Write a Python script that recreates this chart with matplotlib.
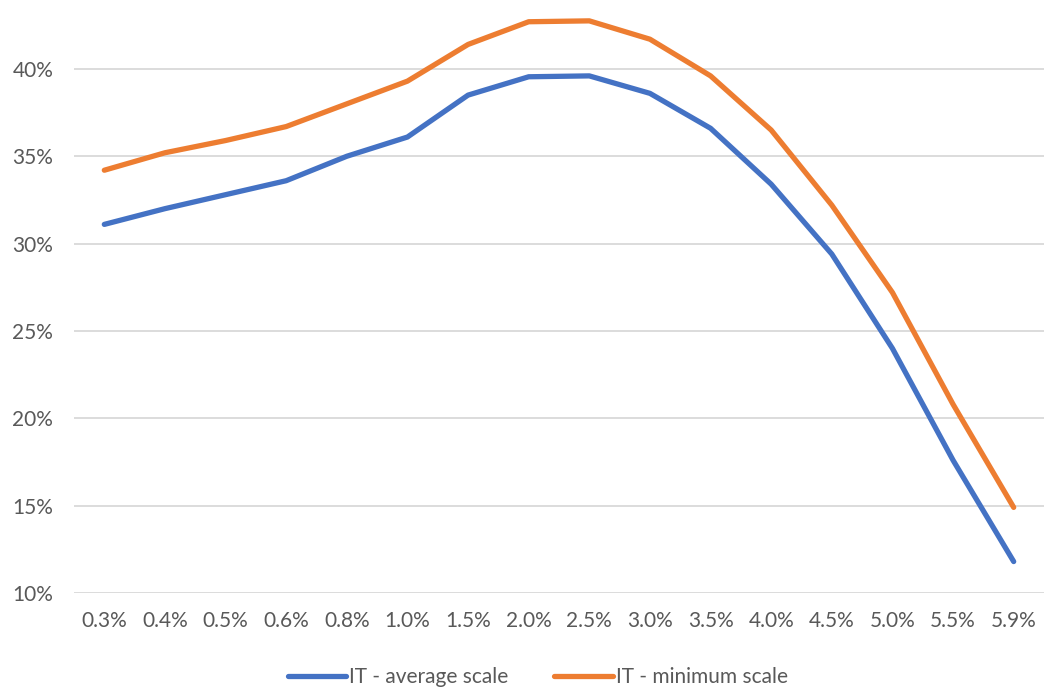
import numpy as np
import matplotlib.pyplot as plt
from matplotlib.ticker import PercentFormatter

plt.rcParams['font.family'] = ['Lato', 'DejaVu Sans']

# x categories (rate) and the two IT series
rates = ['0.3%', '0.4%', '0.5%', '0.6%', '0.8%', '1.0%', '1.5%', '2.0%',
         '2.5%', '3.0%', '3.5%', '4.0%', '4.5%', '5.0%', '5.5%', '5.9%']
it_avg = [31.1, 32.0, 32.8, 33.6, 35.0, 36.1, 38.5, 39.55,
          39.6, 38.6, 36.6, 33.4, 29.4, 24.0, 17.6, 11.8]
it_min = [34.2, 35.2, 35.9, 36.7, 38.0, 39.3, 41.4, 42.7,
          42.75, 41.7, 39.6, 36.5, 32.2, 27.2, 20.8, 14.9]

grey = '#595959'

fig = plt.figure(figsize=(10.44, 6.91), dpi=100)
ax = fig.add_axes([74/1044, 1 - 593/691, 1 - 74/1044, (593 - 13)/691])

x = np.arange(len(rates))
ax.plot(x, np.array(it_avg) / 100, color='#4472C4', lw=3.8,
        solid_capstyle='round', solid_joinstyle='round', label='IT - average scale')
ax.plot(x, np.array(it_min) / 100, color='#ED7D31', lw=3.8,
        solid_capstyle='round', solid_joinstyle='round', label='IT - minimum scale')

ax.set_xlim(-0.5, len(rates) - 0.5)
ax.set_ylim(0.10, 0.432)
ax.set_yticks([0.10, 0.15, 0.20, 0.25, 0.30, 0.35, 0.40])
ax.yaxis.set_major_formatter(PercentFormatter(1.0, decimals=0))
ax.set_xticks(x)
ax.set_xticklabels(rates)

ax.grid(axis='y', color='#D9D9D9', lw=1.3)
ax.set_axisbelow(True)
for s in ax.spines.values():
    s.set_visible(False)
ax.tick_params(axis='both', length=0, labelsize=15, labelcolor=grey)
ax.tick_params(axis='y', pad=15)
ax.tick_params(axis='x', pad=13)

fig.legend(loc='lower center', bbox_to_anchor=(0.515, -0.022), ncol=2, frameon=False,
           fontsize=15, labelcolor=grey, handlelength=2.8, handletextpad=0.15,
           columnspacing=2.2)

fig.savefig('out.png', dpi=100)
